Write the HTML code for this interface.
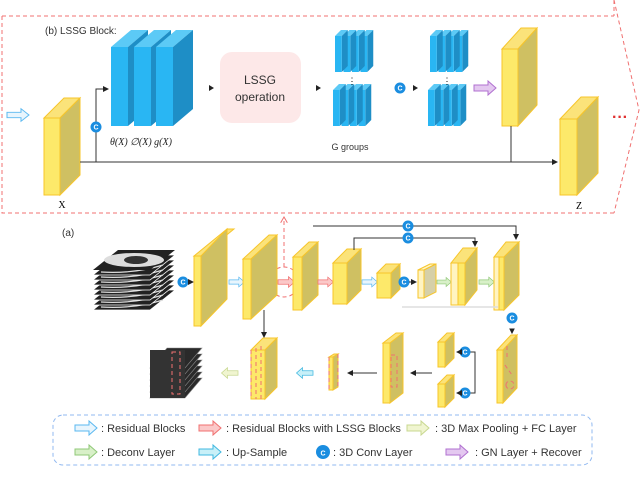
<!DOCTYPE html>
<html><head><meta charset="utf-8"><style>
html,body{margin:0;padding:0;background:#fff;}
svg{display:block;font-family:"Liberation Sans",sans-serif;}
.yf{fill:#fde96a;stroke:#f7c52a;stroke-width:1}
.yt{fill:#fbe37a;stroke:#f7c52a;stroke-width:1}
.ys{fill:#cfc062;stroke:#f7c52a;stroke-width:1}
.lf{fill:#fff4c2;stroke:#f7c52a;stroke-width:1}
.ls{fill:#d6d0a8;stroke:#f7c52a;stroke-width:1}
.bf{fill:#29b6f3}.bt{fill:#5ccaf6}.bs{fill:#1e8ec6}
.ln{stroke:#333;stroke-width:1;fill:none}
.rd{stroke:#f07070;stroke-width:1;fill:none;stroke-dasharray:4,3}
.cc{fill:#1a8de0}
.ct{fill:#fff;font-size:7px;text-anchor:middle;font-weight:bold}
.lg{font-size:11px;fill:#333}
</style></head><body>
<svg width="640" height="485" viewBox="0 0 640 485" xmlns="http://www.w3.org/2000/svg">
<defs>
<path id="ar" d="M0,-3 H14 V-7 L22,0 L14,7 V3 H0 Z"/>
<marker id="mh" markerWidth="6" markerHeight="6" refX="5" refY="3" orient="auto"><path d="M0,0 L6,3 L0,6 Z" fill="#222"/></marker>
<marker id="mr" markerWidth="7" markerHeight="7" refX="5" refY="3.5" orient="auto"><path d="M0,0 L6,3.5 L0,7" fill="none" stroke="#f07070"/></marker>
<g id="slab">
<polygon class="bt" points="30,0 37,-6 45,-6 38,0"/><polygon class="bs" points="38,0 45,-6 45,30 38,36"/><rect class="bf" x="30" y="0" width="8" height="36"/>
<polygon class="bt" points="20,0 27,-6 35,-6 28,0"/><polygon class="bs" points="28,0 35,-6 35,30 28,36"/><rect class="bf" x="20" y="0" width="8" height="36"/>
<polygon class="bt" points="10,0 17,-6 25,-6 18,0"/><polygon class="bs" points="18,0 25,-6 25,30 18,36"/><rect class="bf" x="10" y="0" width="8" height="36"/>
<polygon class="bt" points="0,0 7,-6 15,-6 8,0"/><polygon class="bs" points="8,0 15,-6 15,30 8,36"/><rect class="bf" x="0" y="0" width="8" height="36"/>
</g>
<g id="cc"><circle class="cc" r="5.5"/><text class="ct" y="2.5">C</text></g>
<g id="sl"><polygon points="0,20 57,20 82,0 25,0" fill="#222" stroke="#fff" stroke-width="0.8"/><path d="M8,17 Q41,19 70,10" stroke="#ddd" stroke-width="1.2" fill="none"/></g>
<g id="sl2"><polygon points="0,20 35,20 52,0 17,0" fill="#2a2a2a" stroke="#888" stroke-width="0.6"/></g>
</defs>

<path class="rd" d="M2,16 H614 M614,0 V16 M614,0 L639,110 L614,213 M2,16 V213 H614"/>
<text x="45" y="34" font-size="10" fill="#333">(b) LSSG Block:</text>
<use href="#ar" transform="translate(7,115) scale(1,0.9)" fill="#e8f5fd" stroke="#5ab8f0"/>
<polygon class="yt" points="44,118 64,98 80,98 60,118"/><polygon class="ys" points="60,118 80,98 80,175 60,195"/><rect class="yf" x="44" y="118" width="16" height="77"/>
<text x="62" y="208" font-size="10" text-anchor="middle" font-family="Liberation Serif">X</text>
<path class="ln" d="M80,162 H557" marker-end="url(#mh)"/>
<path class="ln" d="M96,162 V89 H108" marker-end="url(#mh)"/>
<use href="#cc" transform="translate(96,127)"/>
<polygon class="bt" points="111,47 131,30 148,30 128,47"/><polygon class="bs" points="128,47 148,30 148,109 128,126"/><rect class="bf" x="111" y="47" width="17" height="79"/>
<polygon class="bt" points="134,47 154,30 171,30 151,47"/><polygon class="bs" points="151,47 171,30 171,109 151,126"/><rect class="bf" x="134" y="47" width="17" height="79"/>
<polygon class="bt" points="156,47 176,30 193,30 173,47"/><polygon class="bs" points="173,47 193,30 193,109 173,126"/><rect class="bf" x="156" y="47" width="17" height="79"/>
<text x="110" y="145" font-size="10" font-family="Liberation Serif" font-style="italic" fill="#222">θ(X) ∅(X) g(X)</text>
<path d="M209,85 L214,88 L209,91Z" fill="#222"/>
<rect x="220" y="52" width="81" height="71" rx="12" fill="#fde8e8"/>
<text x="260" y="84" font-size="12" text-anchor="middle" fill="#333">LSSG</text>
<text x="260" y="101" font-size="12" text-anchor="middle" fill="#333">operation</text>
<path d="M316,85 L321,88 L316,91Z" fill="#222"/>
<use href="#slab" transform="translate(335,36) scale(0.85,1)"/>
<use href="#slab" transform="translate(333,90) scale(0.85,1)"/>
<text x="352" y="84" font-size="9" text-anchor="middle">⋮</text>
<text x="350" y="150" font-size="9" text-anchor="middle" fill="#333">G groups</text>
<use href="#cc" transform="translate(400,88)"/>
<path d="M413,85 L418,88 L413,91Z" fill="#222"/>
<use href="#slab" transform="translate(430,36) scale(0.85,1)"/>
<use href="#slab" transform="translate(428,90) scale(0.85,1)"/>
<text x="447" y="84" font-size="9" text-anchor="middle">⋮</text>
<use href="#ar" transform="translate(474,88)" fill="#e4c8f0" stroke="#b070d0"/>
<polygon class="yt" points="502,49 521,28 537,28 518,49"/><polygon class="ys" points="518,49 537,28 537,105 518,126"/><rect class="yf" x="502" y="49" width="16" height="77"/>
<path class="ln" d="M511,126 V162"/>
<polygon class="yt" points="560,119 581,97 598,97 577,119"/><polygon class="ys" points="577,119 598,97 598,173 577,195"/><rect class="yf" x="560" y="119" width="17" height="76"/>
<text x="579" y="209" font-size="10" text-anchor="middle" font-family="Liberation Serif">Z</text>
<text x="620" y="122" font-size="16" font-weight="bold" fill="#e03030" text-anchor="middle">···</text>

<text x="62" y="236" font-size="10" fill="#333">(a)</text>
<path class="rd" d="M284,267 V218" marker-end="url(#mr)"/>
<circle class="rd" cx="284" cy="282" r="15"/>
<use href="#sl" transform="translate(93,290)"/><use href="#sl" transform="translate(93,285)"/><use href="#sl" transform="translate(93,280)"/><use href="#sl" transform="translate(93,275)"/><use href="#sl" transform="translate(93,270)"/><use href="#sl" transform="translate(93,265)"/><use href="#sl" transform="translate(93,260)"/><use href="#sl" transform="translate(93,255)"/>
<polygon points="93,270 150,270 175,250 118,250" fill="#222"/>
<ellipse cx="134" cy="260" rx="30" ry="7" fill="#ddd"/><ellipse cx="136" cy="260" rx="12" ry="4" fill="#333"/>
<use href="#cc" transform="translate(183,282)"/><path d="M188,282 H193" class="ln" marker-end="url(#mh)"/>
<polygon class="yt" points="194,256 227,229 234,229 201,256"/><polygon class="ys" points="201,256 227,229 227,299 201,326"/><rect class="yf" x="194" y="256" width="7" height="70"/>
<use href="#ar" transform="translate(229,282) scale(0.7)" fill="#e8f5fd" stroke="#5ab8f0"/>
<polygon class="yt" points="243,259 269,235 277,235 251,259"/><polygon class="ys" points="251,259 277,235 277,295 251,319"/><rect class="yf" x="243" y="259" width="8" height="60"/>
<use href="#ar" transform="translate(278,282) scale(0.75)" fill="#fbc8c8" stroke="#f07070"/>
<polygon class="yt" points="293,257 309,242 318,242 302,257"/><polygon class="ys" points="302,257 318,242 318,295 302,310"/><rect class="yf" x="293" y="257" width="9" height="53"/>
<use href="#ar" transform="translate(318,282) scale(0.7)" fill="#fbc8c8" stroke="#f07070"/>
<polygon class="yt" points="333,263 347,249 361,249 347,263"/><polygon class="ys" points="347,263 361,249 361,290 347,304"/><rect class="yf" x="333" y="263" width="14" height="41"/>
<use href="#ar" transform="translate(362,282) scale(0.7)" fill="#e8f5fd" stroke="#5ab8f0"/>
<polygon class="yt" points="377,273 386,264 400,264 391,273"/><polygon class="ys" points="391,273 400,264 400,289 391,298"/><rect class="yf" x="377" y="273" width="14" height="25"/>
<use href="#cc" transform="translate(404,282)"/><path d="M409,282 H416" class="ln" marker-end="url(#mh)"/>
<polygon class="lf" points="418,270 430,264 436,264 424,270"/><polygon class="ls" points="424,270 436,264 436,292 424,298"/><rect class="lf" x="418" y="270" width="6" height="28"/>
<use href="#ar" transform="translate(437,282) scale(0.65)" fill="#d8f0c8" stroke="#90c878"/>
<polygon class="yt" points="451,263 463,248 477,248 465,263"/><polygon class="ys" points="465,263 477,248 477,290 465,305"/><rect class="lf" x="451" y="263" width="7" height="42"/><rect class="yf" x="458" y="263" width="7" height="42"/>
<use href="#ar" transform="translate(479,282) scale(0.7)" fill="#d8f0c8" stroke="#90c878"/>
<polygon class="yt" points="494,257 506,242 519,242 504,257"/><polygon class="ys" points="504,257 519,242 519,295 504,310"/><rect class="lf" x="494" y="257" width="5" height="53"/><rect class="yf" x="499" y="257" width="5" height="53"/>
<path class="ln" d="M313,226 H516 V239" marker-end="url(#mh)"/>
<use href="#cc" transform="translate(408,226)"/>
<path class="ln" d="M354,250 V238 H475 V246" marker-end="url(#mh)"/>
<use href="#cc" transform="translate(408,238)"/>
<path d="M402,307 H498" stroke="#ddd" stroke-width="1.5"/>
<use href="#cc" transform="translate(512,318)"/><path d="M510,329 L512,333 L514,329Z" fill="#222" stroke="#222"/>
<polygon class="yt" points="497,350 511,335 517,335 503,350"/><polygon class="ys" points="503,350 517,335 517,388 503,403"/><rect class="yf" x="497" y="350" width="6" height="53"/>
<path class="rd" d="M507,346 V360 M505,365 L512,375 M506,385 a4,4 0 1,0 8,0 a4,4 0 1,0 -8,0" stroke-dasharray="2,2"/>
<polygon class="yt" points="438,342 447,333 454,333 445,342"/><polygon class="ys" points="445,342 454,333 454,358 445,367"/><rect class="yf" x="438" y="342" width="7" height="25"/>
<polygon class="yt" points="438,384 447,375 454,375 445,384"/><polygon class="ys" points="445,384 454,375 454,398 445,407"/><rect class="yf" x="438" y="384" width="7" height="23"/>
<path class="ln" d="M470,352 H475 V393 H470"/>
<use href="#cc" transform="translate(465,352)"/><use href="#cc" transform="translate(465,393)"/>
<path class="ln" d="M459,352 H457" marker-end="url(#mh)"/><path class="ln" d="M459,393 H457" marker-end="url(#mh)"/>
<path class="ln" d="M432,373 H411" marker-end="url(#mh)"/>
<polygon class="yt" points="383,343 396,333 403,333 390,343"/><polygon class="ys" points="390,343 403,333 403,393 390,403"/><rect class="yf" x="383" y="343" width="7" height="60"/>
<rect x="391" y="355" width="6" height="32" class="rd" stroke-dasharray="2,2"/>
<path class="ln" d="M377,373 H348" marker-end="url(#mh)"/>
<polygon class="yt" points="329,357 334,354 338,354 333,357"/><polygon class="ys" points="333,357 338,354 338,387 333,390"/><rect class="yf" x="329" y="357" width="4" height="33"/>
<path class="rd" d="M329,357 V390 M338,354 V387" stroke-dasharray="2,2"/>
<use href="#ar" transform="translate(313,373) scale(-0.75,0.75)" fill="#c8f0f8" stroke="#40b8e0"/>
<polygon class="yt" points="251,350 263,338 277,338 265,350"/><polygon class="ys" points="265,350 277,338 277,387 265,399"/><rect class="yf" x="251" y="350" width="14" height="49"/>
<path class="rd" d="M251,350 V399 M256,348 V399 M261,346 V399" stroke-dasharray="2,2"/>
<path class="ln" d="M264,310 V337" marker-end="url(#mh)"/>
<use href="#ar" transform="translate(238,373) scale(-0.75,0.75)" fill="#f0f5d0" stroke="#c8d890"/>
<use href="#sl2" transform="translate(150,378)"/><use href="#sl2" transform="translate(150,372)"/><use href="#sl2" transform="translate(150,366)"/><use href="#sl2" transform="translate(150,360)"/><use href="#sl2" transform="translate(150,354)"/><use href="#sl2" transform="translate(150,348)"/>
<rect x="150" y="350" width="35" height="48" fill="#333"/>
<rect x="172" y="352" width="8" height="42" class="rd" stroke-dasharray="2,2"/>
<rect x="53" y="415" width="539" height="50" rx="10" fill="none" stroke="#90b8f0" stroke-dasharray="4,3"/>
<use href="#ar" transform="translate(75,428)" fill="#e8f5fd" stroke="#5ab8f0"/>
<text x="101" y="432" class="lg">: Residual Blocks</text>
<use href="#ar" transform="translate(199,428)" fill="#fbc8c8" stroke="#f07070"/>
<text x="226" y="432" class="lg">: Residual Blocks with LSSG Blocks</text>
<use href="#ar" transform="translate(407,428)" fill="#f0f5d0" stroke="#c8d890"/>
<text x="435" y="432" class="lg">: 3D Max Pooling + FC Layer</text>
<use href="#ar" transform="translate(75,452)" fill="#d8f0c8" stroke="#90c878"/>
<text x="101" y="456" class="lg">: Deconv Layer</text>
<use href="#ar" transform="translate(199,452)" fill="#c8f0f8" stroke="#40b8e0"/>
<text x="226" y="456" class="lg">: Up-Sample</text>
<circle cx="323" cy="452" r="7" class="cc"/><text x="323" y="455.5" class="ct" font-size="9">C</text>
<text x="333" y="456" class="lg">: 3D Conv Layer</text>
<use href="#ar" transform="translate(446,452)" fill="#e4c8f0" stroke="#b070d0"/>
<text x="475" y="456" class="lg">: GN Layer + Recover</text>
</svg>
</body></html>
